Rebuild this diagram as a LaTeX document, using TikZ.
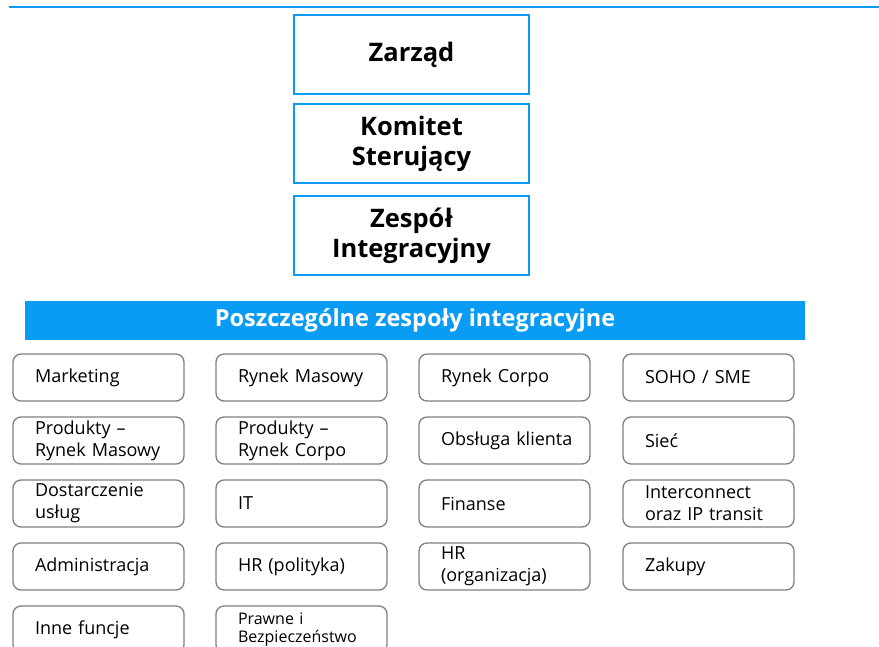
\documentclass[tikz,border=0pt]{standalone}
\usepackage{fontspec}
\setmainfont{Open Sans}
\definecolor{brandblue}{HTML}{0A9BF5}
\definecolor{boxgray}{HTML}{7F7F7F}
\begin{document}
\begin{tikzpicture}[x=1pt,y=-1pt,
  topbox/.style={draw=brandblue,line width=1.8pt,minimum width=235pt,minimum height=79pt,
    align=center,font=\fontsize{25.5}{30}\selectfont\bfseries,inner sep=0pt},
  team/.style={draw=boxgray,line width=1.3pt,rounded corners=8pt,minimum height=47pt,
    text width=127pt,inner xsep=22pt,inner ysep=0pt,align=left,
    font=\fontsize{18}{22}\selectfont},
  teamsmall/.style={team,font=\fontsize{16}{18}\selectfont}]
\useasboundingbox (0,0) rectangle (879,646);
\clip (0,0) rectangle (879,646);
\coordinate (l0) at (9,7);
\coordinate (l1) at (879,7);
\draw[brandblue,line width=2pt] (l0) -- (l1);
\node[topbox] (zarzad) at (411.5,54.5) {Zarząd};
\node[topbox] (komitet) at (411.5,143.5) {Komitet\\Sterujący};
\node[topbox] (zespol) at (411.5,235.5) {Zespół\\Integracyjny};
\node[fill=brandblue,minimum width=780pt,minimum height=39pt,inner sep=0pt,
  text=white,font=\fontsize{23.5}{28}\selectfont\bfseries] (bar) at (415,320.5)
  {Poszczególne zespoły integracyjne};
\node[team] (t11) at (98.5,377.5) {Marketing};
\node[team] (t12) at (301.5,377.5) {Rynek Masowy};
\node[team] (t13) at (504.5,377.5) {Rynek Corpo};
\node[team] (t14) at (708.5,377.5) {SOHO / SME};
\node[team] (t21) at (98.5,440.5) {Produkty –\\Rynek Masowy};
\node[team] (t22) at (301.5,440.5) {Produkty –\\Rynek Corpo};
\node[team] (t23) at (504.5,440.5) {\mbox{Obsługa klienta}};
\node[team] (t24) at (708.5,440.5) {Sieć};
\node[team] (t31) at (98.5,503.5) {Dostarczenie\\usług};
\node[team] (t32) at (301.5,503.5) {IT};
\node[team] (t33) at (504.5,503.5) {Finanse};
\node[team] (t34) at (708.5,503.5) {Interconnect\\oraz IP transit};
\node[team] (t41) at (98.5,566.5) {Administracja};
\node[team] (t42) at (301.5,566.5) {HR (polityka)};
\node[team] (t43) at (504.5,566.5) {HR\\(organizacja)};
\node[team] (t44) at (708.5,566.5) {Zakupy};
\node[team] (t51) at (98.5,629.5) {Inne funcje};
\node[teamsmall] (t52) at (301.5,629.5) {Prawne i\\Bezpieczeństwo};
\end{tikzpicture}
\end{document}
